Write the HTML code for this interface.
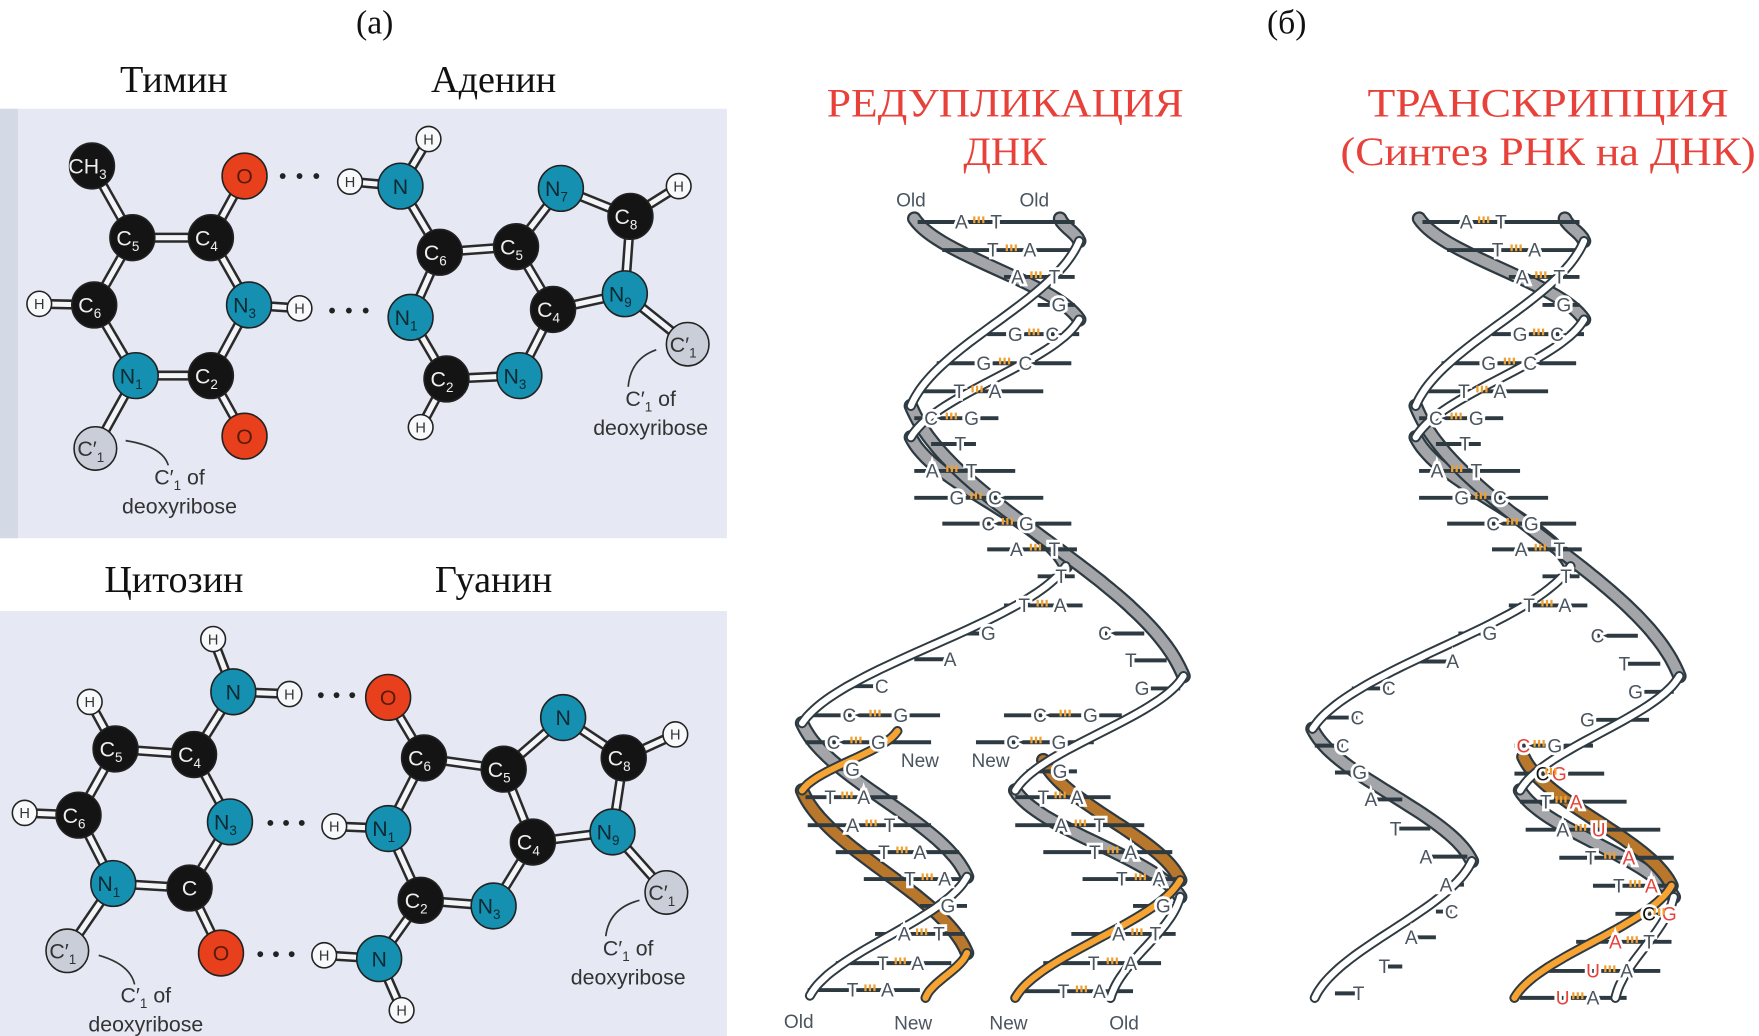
<!DOCTYPE html>
<html><head><meta charset="utf-8"><style>
html,body{margin:0;padding:0;background:#fff}
svg{display:block}
</style></head><body>
<svg id="s" xmlns="http://www.w3.org/2000/svg" width="1759" height="1036" viewBox="0 0 1568 924" preserveAspectRatio="none">
<rect x="0" y="0" width="1568" height="924" fill="#fff"/>
<rect x="0" y="97" width="648" height="383" fill="#e6e9f3"/>
<rect x="0" y="97" width="16" height="383" fill="#d3dae6"/>
<rect x="0" y="545" width="648" height="379" fill="#e6e9f3"/>
<g font-family="Liberation Serif, serif" fill="#111">
<text x="334" y="30" font-size="30" text-anchor="middle">(а)</text>
<text x="1147" y="30" font-size="30" text-anchor="middle">(б)</text>
<text x="155" y="82" font-size="34" text-anchor="middle">Тимин</text>
<text x="440" y="82" font-size="34" text-anchor="middle">Аденин</text>
<text x="155" y="528" font-size="34" text-anchor="middle">Цитозин</text>
<text x="440" y="528" font-size="34" text-anchor="middle">Гуанин</text>
</g>
<g font-family="Liberation Serif, serif" fill="#e8413a" font-size="36" text-anchor="middle">
<text x="896" y="104" textLength="318" lengthAdjust="spacingAndGlyphs">РЕДУПЛИКАЦИЯ</text>
<text x="896" y="147">ДНК</text>
<text x="1380" y="104" textLength="322" lengthAdjust="spacingAndGlyphs">ТРАНСКРИПЦИЯ</text>
<text x="1380" y="147" textLength="370" lengthAdjust="spacingAndGlyphs">(Синтез РНК на ДНК)</text>
</g>
<g id="mol"></g>
<g id="dna"></g>
</svg>
<script>
var NS="http://www.w3.org/2000/svg";
function el(t,a,p,txt){var e=document.createElementNS(NS,t);for(var k in a)e.setAttribute(k,a[k]);if(txt!==undefined)e.textContent=txt;(p||document.getElementById('s')).appendChild(e);return e;}
var mol=document.getElementById('mol');
var col={C:'#141414',O:'#e8401c',N:'#1590b0',H:'#f8f9fb',G:'#c9ced8'};
function molecule(atoms,bonds,dots){
  var bg=el('g',{},mol);
  bonds.forEach(function(b){var a=atoms[b[0]],c=atoms[b[1]];
    el('line',{x1:a[0],y1:a[1],x2:c[0],y2:c[1],stroke:'#2a2a2a','stroke-width':9},bg);
    el('line',{x1:a[0],y1:a[1],x2:c[0],y2:c[1],stroke:'#f4f5f8','stroke-width':4.5},bg);});
  dots.forEach(function(d){for(var i=0;i<3;i++){el('circle',{cx:d[0]+i*(d[2]-d[0])/2,cy:d[1],r:2.6,fill:'#222'},bg);}});
  for(var k in atoms){var a=atoms[k];var t=a[2];var r=(t=='H')?11:(t=='G'?19:20);
    el('ellipse',{cx:a[0],cy:a[1],rx:r,ry:r*1.02,fill:col[t],stroke:'#222','stroke-width':1.4},bg);
    var fs=(t=='H')?13:19, fc='#333';
    if(t=='N')fc='#0c2a33'; if(t=='O')fc='#5a1a08'; if(t=='C')fc='#eee';
    var tx=el('text',{x:a[0]-(a[4]?4:0),y:a[1]+fs*0.36,'font-family':'Liberation Sans, sans-serif','font-size':fs,'text-anchor':'middle',fill:fc},bg);
    el('tspan',{},tx,a[3]);
    if(a[4]){el('tspan',{dy:5,'font-size':12},tx,a[4]);}
  }
}
molecule({ch3:[82,148,'C','CH','3'],c5:[118,212,'C','C','5'],c4:[188,212,'C','C','4'],o4:[218,157,'O','O'],n3:[222,272,'N','N','3'],h3:[267,275,'H','H'],c2:[188,335,'C','C','2'],o2:[218,389,'O','O'],n1:[121,335,'N','N','1'],c6:[84,272,'C','C','6'],h6:[35,271,'H','H'],c1:[85,400,'G','C′','1'],
 h6a:[312,162,'H','H'],n6:[357,166,'N','N'],h6b:[382,124,'H','H'],c6a:[392,225,'C','C','6'],c5a:[460,220,'C','C','5'],n7:[500,168,'N','N','7'],c8:[562,193,'C','C','8'],h8:[605,166,'H','H'],n9:[557,262,'N','N','9'],c1a:[613,307,'G','C′','1'],c4a:[493,276,'C','C','4'],n3a:[463,335,'N','N','3'],c2a:[398,338,'C','C','2'],h2:[375,381,'H','H'],n1a:[366,283,'N','N','1']},
 [['ch3','c5'],['c5','c4'],['c4','o4'],['c4','n3'],['n3','h3'],['n3','c2'],['c2','o2'],['c2','n1'],['n1','c6'],['c6','c5'],['c6','h6'],['n1','c1'],
  ['h6a','n6'],['n6','h6b'],['n6','c6a'],['c6a','c5a'],['c5a','n7'],['n7','c8'],['c8','h8'],['c8','n9'],['n9','c1a'],['n9','c4a'],['c4a','c5a'],['c4a','n3a'],['n3a','c2a'],['c2a','h2'],['c2a','n1a'],['n1a','c6a']],
 [[252,157,282],[296,277,326]]);
molecule({h4:[190,570,'H','H'],n4:[208,617,'N','N'],h4b:[258,619,'H','H'],c4:[173,673,'C','C','4'],c5:[103,668,'C','C','5'],h5:[80,626,'H','H'],c6:[70,727,'C','C','6'],h6:[22,725,'H','H'],n1:[101,788,'N','N','1'],c2:[169,792,'C','C'],o2:[197,850,'O','O'],n3:[205,733,'N','N','3'],c1:[60,848,'G','C′','1'],
 o6:[346,622,'O','O'],c6g:[378,676,'C','C','6'],c5g:[449,686,'C','C','5'],n7:[502,640,'N','N'],c8:[556,676,'C','C','8'],h8:[602,655,'H','H'],n9:[546,742,'N','N','9'],c1g:[594,796,'G','C′','1'],c4g:[475,751,'C','C','4'],n3g:[440,808,'N','N','3'],c2g:[375,803,'C','C','2'],n2:[338,855,'N','N'],h2a:[289,852,'H','H'],h2b:[358,901,'H','H'],n1g:[346,739,'N','N','1'],h1:[298,737,'H','H']},
 [['h4','n4'],['n4','h4b'],['n4','c4'],['c4','c5'],['c5','h5'],['c5','c6'],['c6','h6'],['c6','n1'],['n1','c2'],['c2','o2'],['c2','n3'],['n3','c4'],['n1','c1'],
  ['o6','c6g'],['c6g','c5g'],['c5g','n7'],['n7','c8'],['c8','h8'],['c8','n9'],['n9','c1g'],['n9','c4g'],['c4g','c5g'],['c4g','n3g'],['n3g','c2g'],['c2g','n2'],['n2','h2a'],['n2','h2b'],['c2g','n1g'],['n1g','h1'],['n1g','c6g']],
 [[286,620,314],[241,734,269],[232,851,260]]);
function lab(x,y,arrow){var g=el('g',{'font-family':'Liberation Sans, sans-serif','font-size':19,fill:'#333','text-anchor':'middle'},mol);
 var t=el('text',{x:x,y:y},g);el('tspan',{},t,'C′');el('tspan',{dy:5,'font-size':12},t,'1');el('tspan',{dy:-5},t,'  of');
 el('text',{x:x,y:y+26},g,'deoxyribose');
 el('path',{d:arrow,fill:'none',stroke:'#333','stroke-width':1.5},mol);}
lab(160,432,'M150 415 Q145 398 112 393');lab(580,362,'M560 345 Q562 320 585 312');
lab(130,894,'M120 878 Q116 860 88 852');lab(560,852,'M540 835 Q543 810 570 803');
var dna=document.getElementById('dna');
function strandPts(ext){var pts=[];for(var i=0;i<ext.length-1;i++){var a=ext[i],b=ext[i+1];var n=Math.max(4,Math.round((b[1]-a[1])/3));
 for(var j=(i==0?0:1);j<=n;j++){var t=j/n;var f=0.5*(1-Math.cos(Math.PI*t));f=0.6*f+0.4*t;pts.push([a[0]+(b[0]-a[0])*f,a[1]+(b[1]-a[1])*t]);}}return pts;}
var backL=el('g',{},dna),lineL=el('g',{},dna),frontL=el('g',{},dna),textL=el('g',{'font-family':'Liberation Sans, sans-serif','font-size':17},dna);
function strand(ext,fc,bc){var p=strandPts(ext);
 var runs=[],cur=null;
 for(var i=0;i<p.length-1;i++){var dir=(p[i+1][0]-p[i][0])>=0?'b':'f';if(!cur||cur.d!=dir){cur={d:dir,p:[p[i]]};runs.push(cur);}cur.p.push(p[i+1]);}
 runs.forEach(function(r){var d='M'+r.p.map(function(q){return q[0].toFixed(1)+' '+q[1].toFixed(1)}).join(' L');
  var L=r.d=='b'?backL:frontL;
  el('path',{d:d,fill:'none',stroke:'#2e3a42','stroke-width':r.d=='b'?13:9,'stroke-linecap':'round'},L);
  el('path',{d:d,fill:'none',stroke:r.d=='b'?bc:fc,'stroke-width':r.d=='b'?9:5.5,'stroke-linecap':'round'},L);});}
var W='#ffffff',Gr='#a3a5a8',Ol='#f6a332',Od='#b8772a';
strand([[815,195],[962,285],[812,390],[950,505],[715,645],[862,782],[722,888]],W,Gr);
strand([[945,195],[962,215],[812,362],[1055,603],[905,705],[1052,800],[990,890]],W,Gr);
strand([[800,652],[715,705],[862,850],[825,890]],Ol,Od);
strand([[930,678],[1052,785],[905,890]],Ol,Od);
strand([[1265,195],[1412,285],[1262,390],[1400,505],[1170,650],[1312,768],[1172,890]],W,Gr);
strand([[1395,195],[1412,215],[1262,362],[1497,603],[1355,705],[1492,800],[1440,890]],W,Gr);
strand([[1358,675],[1490,790],[1350,890]],Ol,Od);
function row(y,lx,ll,rx,rl,a,b,lc,rc){
 el('line',{x1:a,y1:y,x2:b,y2:y,stroke:'#2e3a42','stroke-width':3.5},lineL);
 if(ll){el('text',{x:lx,y:y+6,'text-anchor':'middle',fill:lc||'#4a5560',stroke:'#fff','stroke-width':5,'paint-order':'stroke'},textL,ll);}
 if(rl){el('text',{x:rx,y:y+6,'text-anchor':'middle',fill:rc||'#4a5560',stroke:'#fff','stroke-width':5,'paint-order':'stroke'},textL,rl);}
 if(ll&&rl){var m=(lx+rx)/2;for(var i=-1;i<=1;i++)el('rect',{x:m+i*4-1,y:y-5,width:2,height:6,fill:'#f0a030'},textL);}
}
function rows(R,dx){R.forEach(function(r){row(r[0],r[1]+dx,r[2],r[3]+dx,r[4],r[5]+dx,r[6]+dx,r[7],r[8]);});}
var topRows=[[198,857,'A',888,'T',818,958],[223,885,'T',918,'A',840,962],[247,907,'A',940,'T',895,958],[272,944,'G',0,'',925,958],[298,905,'G',938,'C',880,962],[324,877,'G',914,'C',835,955],[349,855,'T',887,'A',815,930],[373,830,'C',866,'G',815,890],[396,856,'T',0,'',830,870],[420,831,'A',866,'T',815,905],[444,853,'G',887,'C',815,930],[467,881,'C',915,'G',840,955],[490,906,'A',940,'T',880,960],[514,946,'T',0,'',925,958],[540,913,'T',945,'A',895,965]];
rows(topRows,0);rows(topRows,450);
rows([[565,881,'G',0,'',855,885],[588,847,'A',0,'',815,845],[612,786,'C',0,'',760,785],[638,757,'C',803,'G',720,838],[662,743,'C',783,'G',718,830],[686,760,'G',0,'',735,760],[711,740,'T',770,'A',718,800],[736,760,'A',793,'T',720,830],[760,788,'T',820,'A',745,855],[784,811,'T',842,'A',770,862],[808,845,'G',0,'',820,862],[833,806,'A',837,'T',780,860],[859,787,'T',818,'A',745,848],[883,760,'T',791,'A',720,820],
 [638,927,'C',972,'G',895,1000],[662,903,'C',944,'G',870,975],[688,945,'G',0,'',915,960],[711,930,'T',960,'A',905,990],[736,946,'A',980,'T',905,1020],[760,976,'T',1008,'A',930,1045],[784,1000,'T',1033,'A',965,1052],[808,1037,'G',0,'',1010,1052],[833,997,'A',1030,'T',955,1048],[859,975,'T',1008,'A',930,1035],[884,948,'T',980,'A',910,1010],
 [565,985,'C',0,'',985,1020],[589,1008,'T',0,'',1010,1040],[614,1018,'G',0,'',1020,1052]],0);
var R='#e8413a';
rows([[565,1328,'G',0,'',1300,1330],[590,1295,'A',0,'',1265,1295],[614,1238,'C',0,'',1205,1238],[640,1210,'C',0,'',1175,1210],[665,1197,'C',0,'',1172,1197],[689,1212,'G',0,'',1190,1212],[713,1222,'A',0,'',1222,1250],[739,1244,'T',0,'',1244,1275],[764,1271,'A',0,'',1271,1308],[789,1289,'A',0,'',1289,1305],[813,1294,'C',0,'',1280,1294],[836,1258,'A',0,'',1258,1280],[862,1234,'T',0,'',1234,1250],[886,1211,'T',0,'',1190,1211],
 [567,1424,'C',0,'',1424,1460],[592,1448,'T',0,'',1448,1480],[617,1458,'G',0,'',1458,1492],[642,1415,'G',0,'',1415,1470],
 [665,1358,'C',1386,'G',1350,1420,R],[690,1375,'C',1390,'G',1350,1430,'#111',R],[715,1378,'T',1405,'A',1355,1450,0,R],[740,1393,'A',1425,'U',1360,1480,0,R],[765,1418,'T',1452,'A',1390,1492,0,R],[790,1443,'T',1472,'A',1420,1495,0,R],[815,1470,'C',1488,'G',1440,1495,'#111',R],[840,1440,'A',1470,'T',1405,1490,R],[866,1420,'U',1450,'A',1380,1480,R],[890,1393,'U',1420,'A',1355,1450,R]],0);
var lg=el('g',{'font-family':'Liberation Sans, sans-serif','font-size':17,fill:'#4a5560','text-anchor':'middle'},dna);
[[812,184,'Old'],[922,184,'Old'],[820,684,'New'],[883,684,'New'],[712,917,'Old'],[814,918,'New'],[899,918,'New'],[1002,918,'Old']].forEach(function(l){el('text',{x:l[0],y:l[1],stroke:'#fff','stroke-width':4,'paint-order':'stroke'},lg,l[2]);});
</script>
</body></html>
